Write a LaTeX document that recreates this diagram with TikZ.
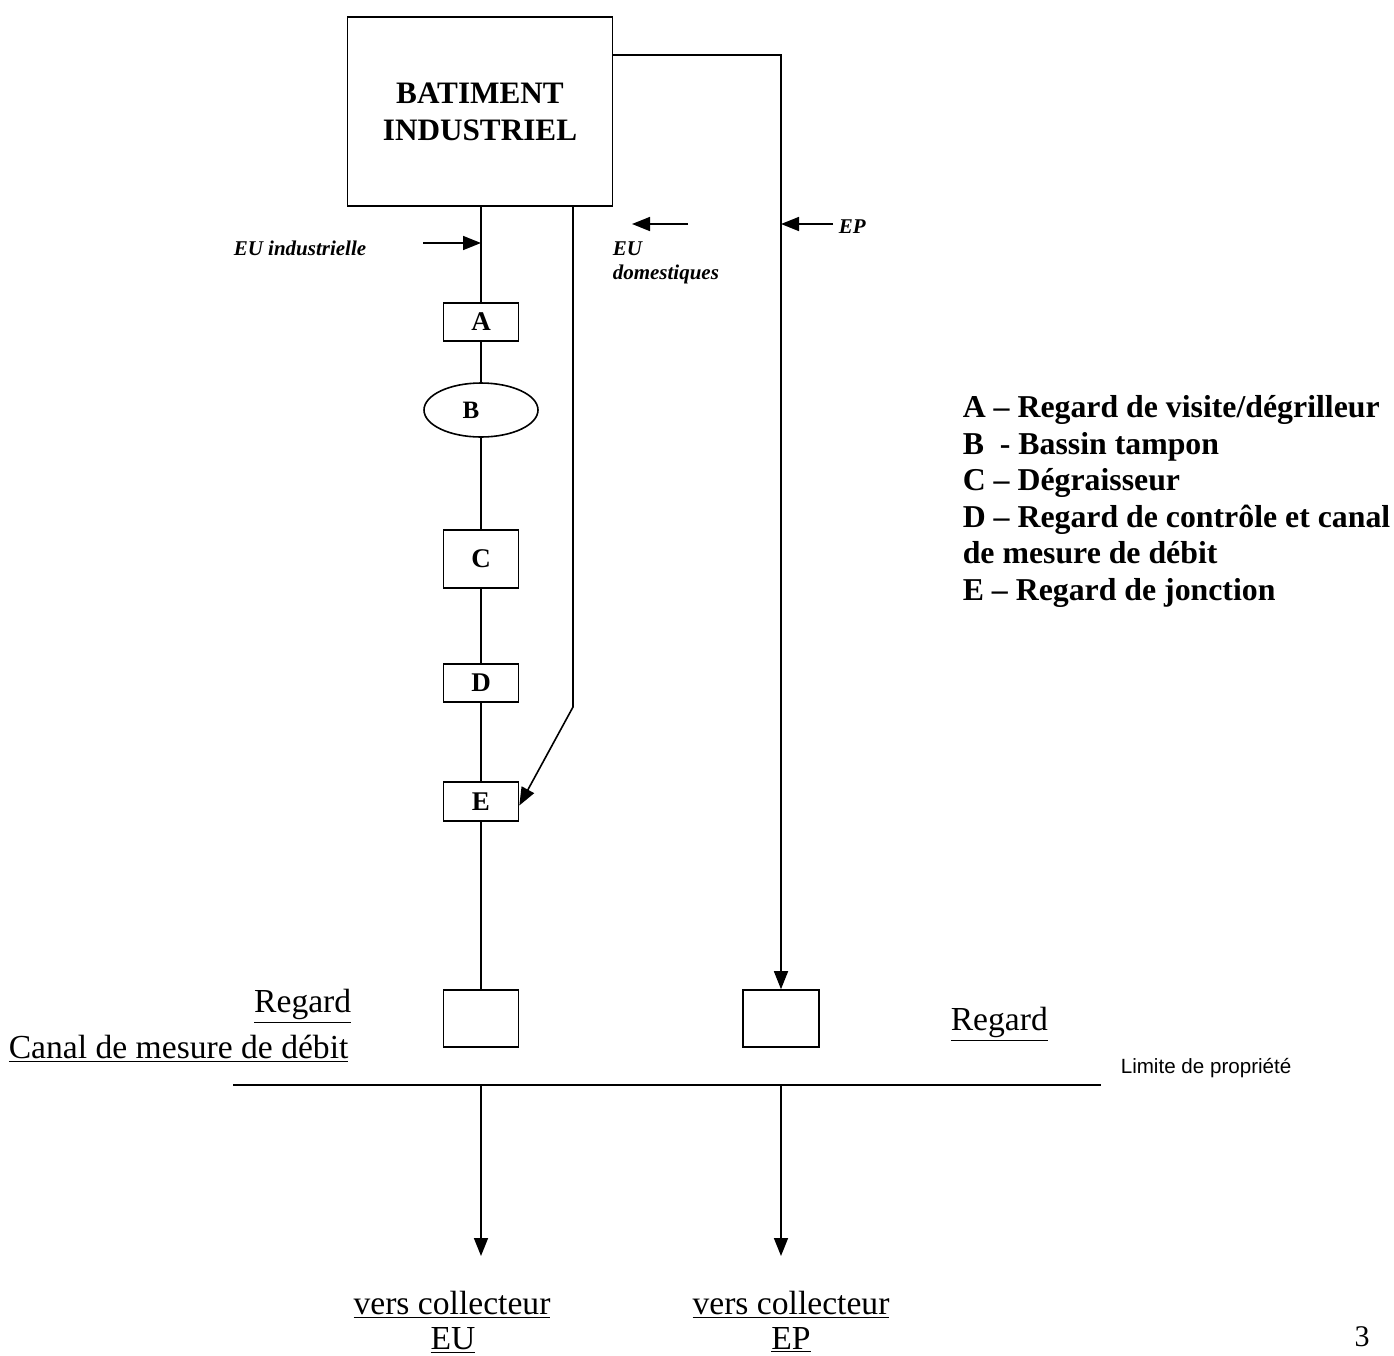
\documentclass[tikz,border=0pt]{standalone}
\usepackage{fontspec}
\setmainfont{Liberation Serif}
\newfontfamily\limfont{Liberation Sans}
\usetikzlibrary{arrows.meta,shapes.geometric}
\begin{document}
\begin{tikzpicture}[x=0.5pt,y=-0.5pt, line width=0.8pt,
  box/.style={draw, minimum width=37.5pt, inner sep=0, font=\fontsize{13.5}{15}\selectfont\bfseries},
  tipline/.style={-{Triangle[length=9pt,width=7pt]}},
  lbl/.style={font=\fontsize{10.5}{12.6}\selectfont\bfseries\itshape, inner sep=0, anchor=base west},
  ul/.style={font=\fontsize{16.8}{19}\selectfont, inner sep=0, anchor=base},
  leg/.style={font=\fontsize{15.9}{18.3}\selectfont\bfseries, inner sep=0, anchor=base west}]
\useasboundingbox (0,0) rectangle (1394,1356);

% building
\node[draw, minimum width=132.5pt, minimum height=94.5pt, align=center,
  font=\fontsize{15.6}{18.5}\selectfont\bfseries] (bat) at (480,111.5) {BATIMENT\\INDUSTRIEL};

% EU chain
\node[box, minimum height=19pt] (A) at (481,322) {A};
\node[draw, ellipse, minimum width=57pt, minimum height=27pt, inner sep=0,
  font=\fontsize{12.5}{14}\selectfont\bfseries] (B) at (481,410) {\hspace*{-10pt}B};
\node[box, minimum height=29pt] (C) at (481,559) {C};
\node[box, minimum height=19pt] (D) at (481,683) {D};
\node[box, minimum height=19.5pt] (E) at (481,801.5) {E};
\node[box, minimum height=28.5pt] (rEU) at (481,1018.5) {};
\node[box, minimum height=28.5pt, minimum width=38pt] (rEP) at (781,1018.5) {};

\draw (A.north |- bat.south) -- (A.north);
\draw (A) -- (B);
\draw (B) -- (C);
\draw (C) -- (D);
\draw (D) -- (E);
\draw (E) -- (rEU);

% domestic line
\coordinate (dk) at (573,707);
\draw[tipline] (dk |- bat.south) -- (dk) -- ([yshift=-2pt]E.east);

% EP line
\coordinate (epc) at (781,55);
\draw[tipline] (bat.east |- epc) -- (epc) -- (rEP.north);

% small input arrows
\coordinate (iaS) at (423,243);
\draw[tipline] (iaS) -- (A.north |- iaS);
\coordinate (daS) at (688,224);
\coordinate (daE) at (632,224);
\draw[tipline] (daS) -- (daE);
\coordinate (epS) at (833,224);
\draw[tipline] (epS) -- (epc |- epS);

\node[lbl] (lEUi) at (233,255) {EU industrielle};
\node[lbl] (lEU) at (612,255) {EU};
\node[lbl] (ldom) at (612,279) {domestiques};
\node[lbl] (lEP) at (838,233) {EP};

% property limit
\coordinate (L1) at (233,1085);
\coordinate (L2) at (1101,1085);
\draw (L1) -- (L2);
\coordinate (tEU) at (481,1256);
\coordinate (tEP) at (781,1256);
\draw[tipline] (rEU |- L1) -- (tEU);
\draw[tipline] (rEP |- L1) -- (tEP);

\node[font=\limfont\fontsize{10.3}{12}\selectfont, inner sep=0, anchor=base west] (lim) at (1120,1073) {Limite de propriété};

% underlined labels
\node[ul, anchor=base east] (regL) at (352,1012) {\underline{Regard}};
\node[ul, anchor=base west] (canal) at (8,1058) {\underline{Canal de mesure de débit}};
\node[ul, anchor=base west] (regR) at (950,1030) {\underline{Regard}};
\node[ul] (vcEU) at (452,1314) {\underline{vers collecteur}};
\node[ul] (nEU) at (453,1349) {\underline{EU}};
\node[ul] (vcEP) at (791,1314) {\underline{vers collecteur}};
\node[ul] (nEP) at (791,1349) {\underline{EP}};

% legend
\node[leg] (g1) at (962,417) {A – Regard de visite/dégrilleur};
\node[leg] (g2) at (962,454) {B\ \ - Bassin tampon};
\node[leg] (g3) at (962,490) {C – Dégraisseur};
\node[leg] (g4) at (962,527) {D – Regard de contrôle et canal};
\node[leg] (g5) at (962,563) {de mesure de débit};
\node[leg] (g6) at (962,600) {E – Regard de jonction};

\node[font=\fontsize{15}{18}\selectfont, inner sep=0, anchor=base] (pg) at (1362,1346) {3};
\end{tikzpicture}
\end{document}
